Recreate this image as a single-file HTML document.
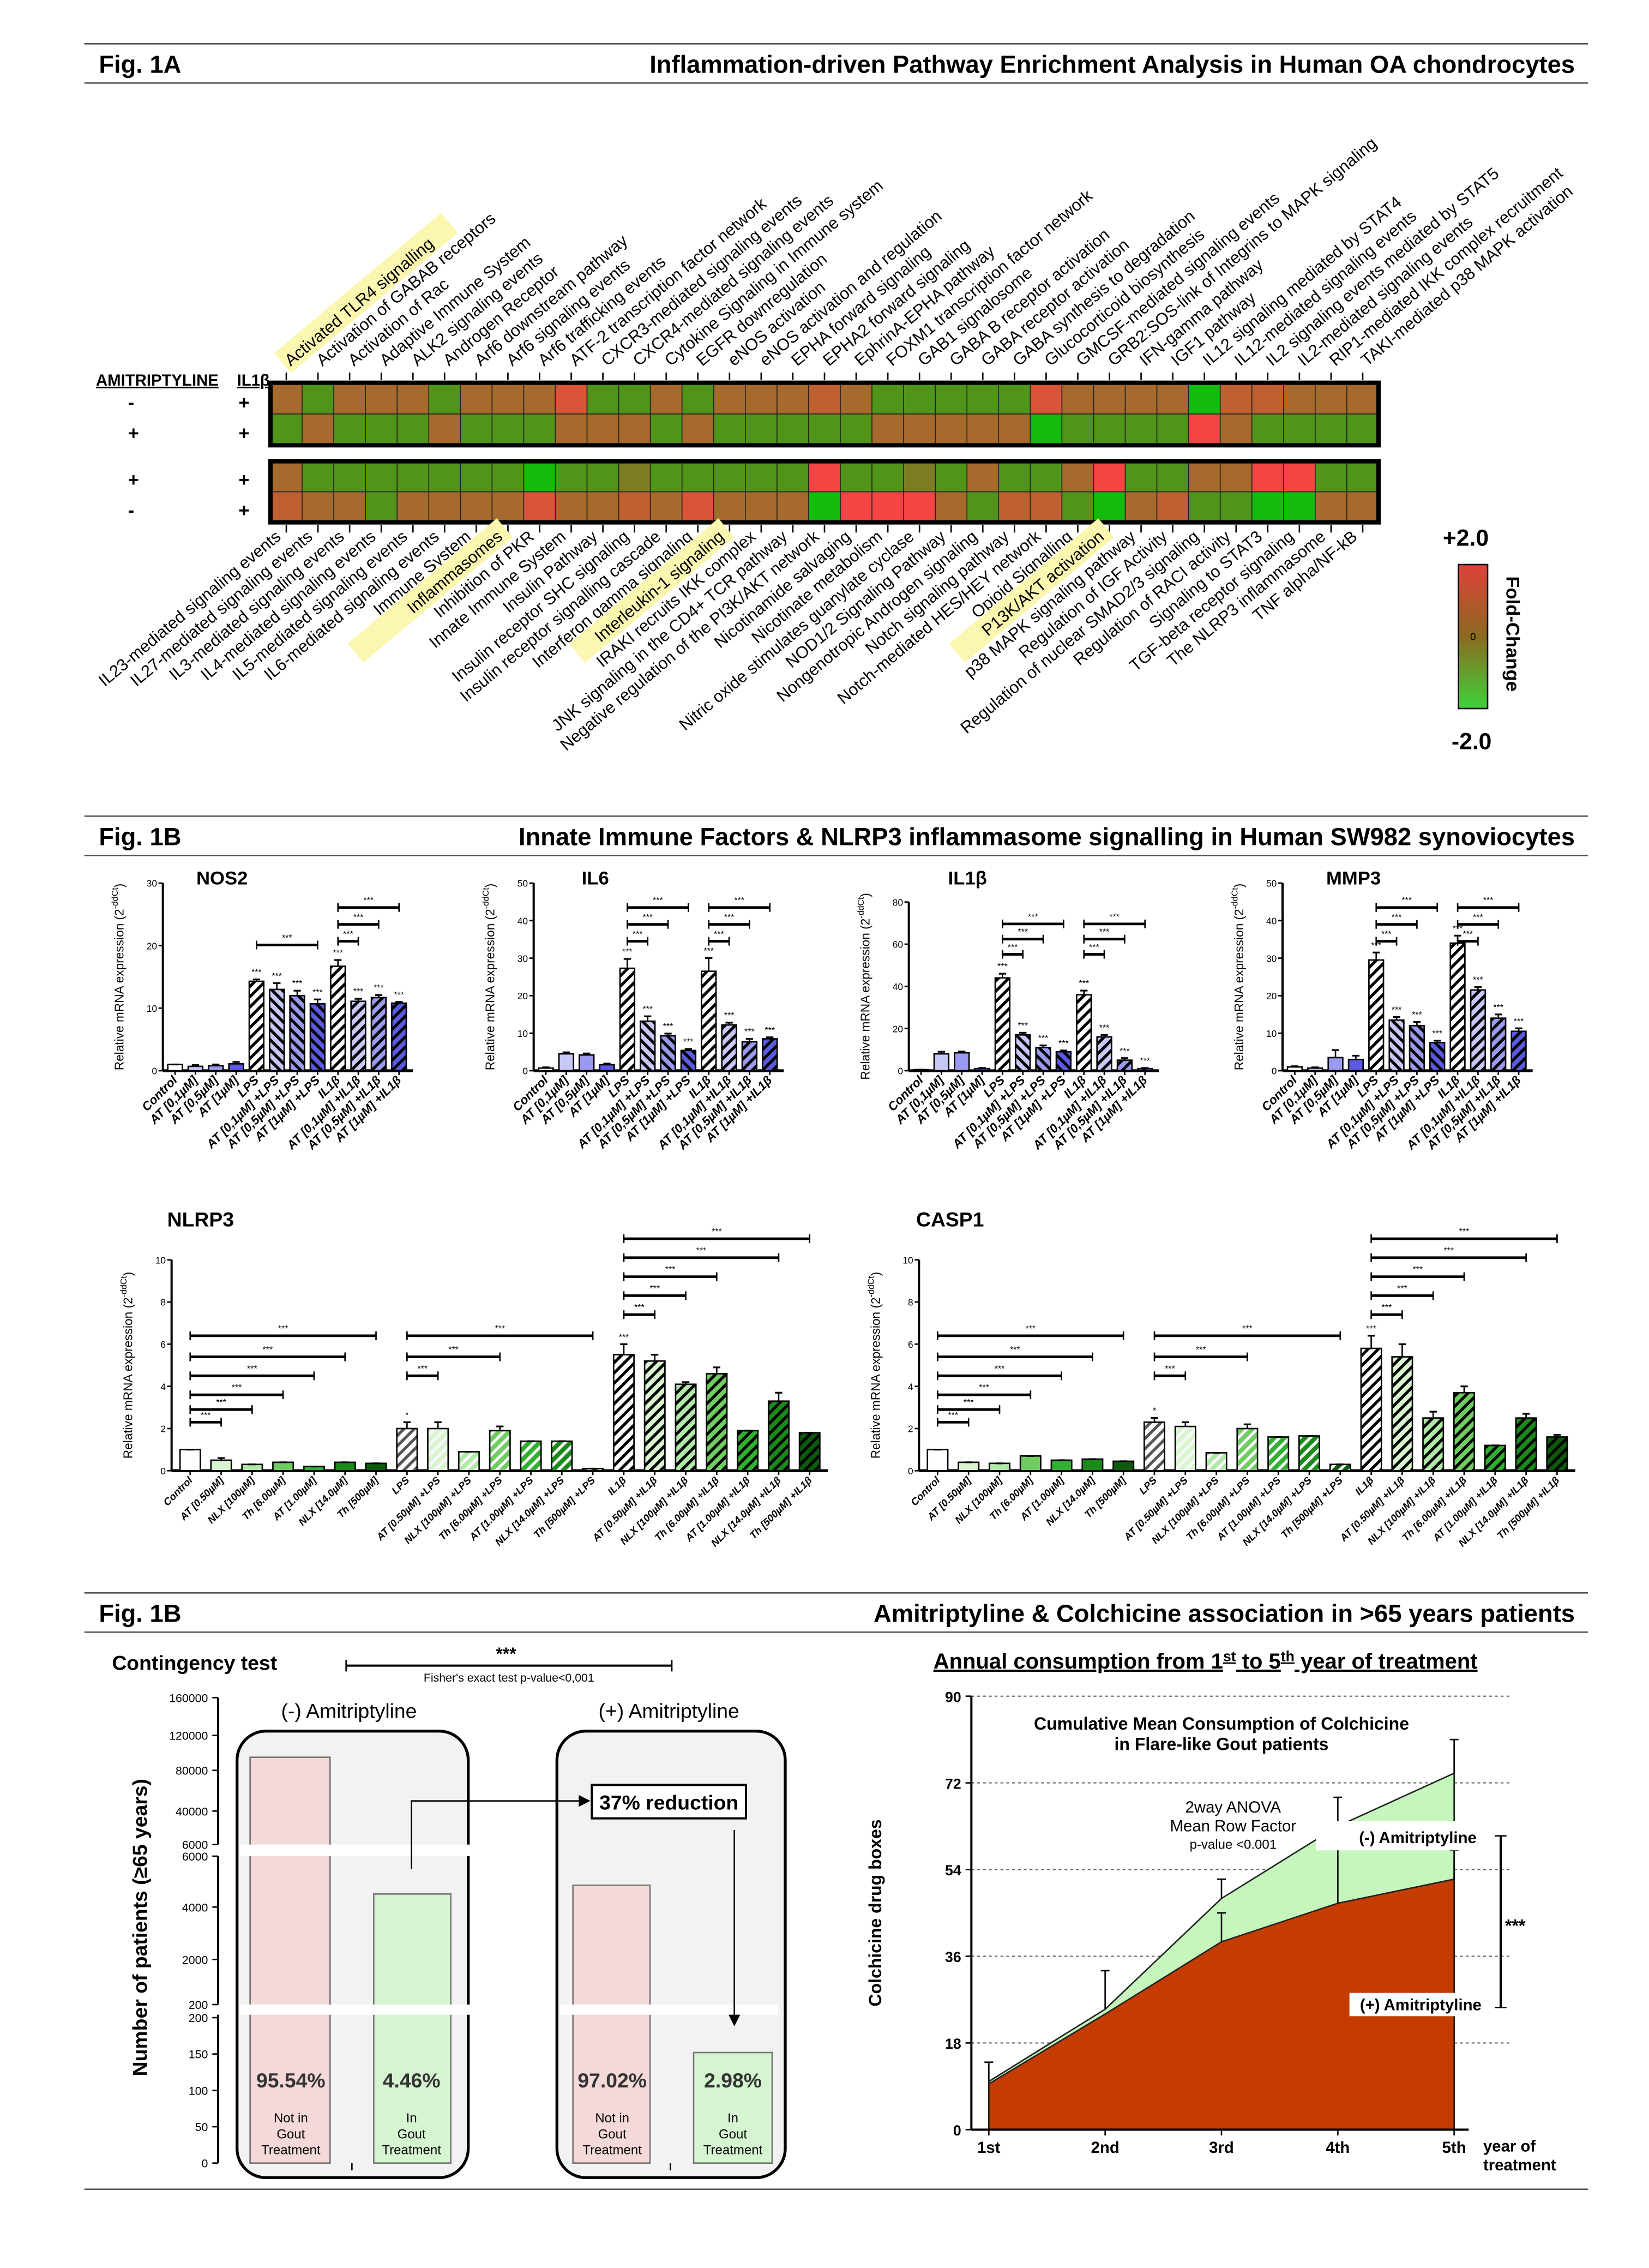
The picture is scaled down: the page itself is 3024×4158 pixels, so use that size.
<!DOCTYPE html>
<html><head><meta charset="utf-8"><style>
html,body{margin:0;padding:0;background:#fff}
svg{display:block}
text{font-family:"Liberation Sans",sans-serif}
</style></head><body>
<svg id="s" width="3024" height="4158" viewBox="0 0 1134 1559" xmlns="http://www.w3.org/2000/svg"></svg>
<script>
(function(){
var h='';
function T(x,y,t,o){o=o||{};h+='<text x="'+x+'" y="'+y+'" font-size="'+(o.s||11)+'"'+(o.b?' font-weight="bold"':'')+(o.i?' font-style="italic"':'')+(o.a?' text-anchor="'+o.a+'"':'')+(o.r!==undefined?' transform="rotate('+o.r+' '+x+' '+y+')"':'')+(o.f?' fill="'+o.f+'"':'')+(o.u?' text-decoration="underline"':'')+'>'+t+'</text>';}
function L(x1,y1,x2,y2,w,c,d){h+='<line x1="'+x1+'" y1="'+y1+'" x2="'+x2+'" y2="'+y2+'" stroke="'+(c||'#000')+'" stroke-width="'+(w||1)+'"'+(d?' stroke-dasharray="'+d+'"':'')+'/>';}
function R(x,y,w,hh,f,s,sw,rx){h+='<rect x="'+x+'" y="'+y+'" width="'+w+'" height="'+hh+'" fill="'+f+'"'+(s?' stroke="'+s+'" stroke-width="'+(sw||1)+'"':'')+(rx?' rx="'+rx+'"':'')+'/>';}
var defs='<defs><linearGradient id="lg" x1="0" y1="0" x2="0" y2="1"><stop offset="0" stop-color="#e0413a"/><stop offset="0.5" stop-color="#8a6a20"/><stop offset="1" stop-color="#3fd23a"/></linearGradient>';
var pid=0;
function hatch(col,dir,sc){pid++;var id='p'+pid;defs+='<pattern id="'+id+'" width="5" height="5" patternUnits="userSpaceOnUse" patternTransform="rotate('+(dir>0?45:-45)+')"><rect width="5" height="5" fill="'+col+'"/><rect width="2" height="5" fill="'+(sc||'#000')+'"/></pattern>';return 'url(#'+id+')';}
function header(y,fig,title){L(58,y-20,1092,y-20,1,'#555');T(68,y,fig,{s:17,b:1});T(1083,y,title,{s:17,b:1,a:'end'});L(58,y+7,1092,y+7,1,'#555');}
header(50,'Fig. 1A','Inflammation-driven Pathway Enrichment Analysis in Human OA chondrocytes');
header(581,'Fig. 1B','Innate Immune Factors &amp; NLRP3 inflammasome signalling in Human SW982 synoviocytes');
header(1115,'Fig. 1B','Amitriptyline &amp; Colchicine association in &gt;65 years patients');
L(58,1505,1092,1505,1,'#555');
var C={B:'#a56a2c',G:'#50951a',R:'#d9553a',r:'#f54444',g:'#14bb0c',o:'#7c7c22',O:'#c06030'};
var rows=['BGBBBGBBBRGGBGBBBOBGGGGGRBBBBgOOBBB','GBGGGBGGGBBBGBGGGGGBBBBBgGGGGrBGGGG','BGGGGGGGgGGoGGGGGrGGoGBGGBrGGBBrrGG','OBBGBBBBRBBOBRBBBgrrrBGOOGgBOGGggBB'];
var hx0=186,cw=(948-186)/35,ry=[263,284.5,317,338];
for(var r=0;r<4;r++)for(var c=0;c<35;c++)R(hx0+c*cw,ry[r],cw,21.5,C[rows[r][c]],'#222',0.6);
R(hx0,263,762,43,'none','#000',3);R(hx0,317,762,42,'none','#000',3);
for(var c=0;c<35;c++){var cx=hx0+c*cw+cw/2;L(cx,256,cx,261,1);L(cx,361,cx,366,1);}
var topL=['Activated TLR4 signalling','Activation of GABAB receptors','Activation of Rac','Adaptive Immune System','ALK2 signaling events','Androgen Receptor','Arf6 downstream pathway','Arf6 signaling events','Arf6 trafficking events','ATF-2 transcription factor network','CXCR3-mediated signaling events','CXCR4-mediated signaling events','Cytokine Signaling in Immune system','EGFR downregulation','eNOS activation','eNOS activation and regulation','EPHA forward signaling','EPHA2 forward signaling','EphrinA-EPHA pathway','FOXM1 transcription factor network','GAB1 signalosome','GABA B receptor activation','GABA receptor activation','GABA synthesis to degradation','Glucocorticoid biosynthesis','GMCSF-mediated signaling events','GRB2:SOS-link of Integrins to MAPK signaling','IFN-gamma pathway','IGF1 pathway','IL12 signaling mediated by STAT4','IL12-mediated signaling events','IL2 signaling events mediated by STAT5','IL2-mediated signaling events','RIP1-mediated IKK complex recruitment','TAKI-mediated p38 MAPK activation'];
var botL=['IL23-mediated signaling events','IL27-mediated signaling events','IL3-mediated signaling events','IL4-mediated signaling events','IL5-mediated signaling events','IL6-mediated signaling events','Immune System','Inflammasomes','Inhibition of PKR','Innate Immune System','Insulin Pathway','Insulin receptor SHC signaling','Insulin receptor signalling cascade','Interferon gamma signaling','Interleukin-1 signaling','IRAKI recruits IKK complex','JNK signaling in the CD4+ TCR pathway','Negative regulation of the PI3K/AKT network','Nicotinamide salvaging','Nicotinate metabolism','Nitric oxide stimulates guanylate cyclase','NOD1/2 Signaling Pathway','Nongenotropic Androgen signaling','Notch signaling pathway','Notch-mediated HES/HEY network','Opioid Signalling','P13K/AKT activation','p38 MAPK signaling pathway','Regulation of IGF Activity','Regulation of nuclear SMAD2/3 signaling','Regulation of RACI activity','Signaling to STAT3','TGF-beta receptor signaling','The NLRP3 inflammasome','TNF alpha/NF-kB'];
var hlT=[0],hlB=[7,14,26];
for(var c=0;c<35;c++){var cx=hx0+c*cw+cw/2+3;
 if(hlT.indexOf(c)>=0)h+='<rect x="'+(cx-4)+'" y="'+(250-13)+'" width="150" height="18" fill="#fbf6b0" transform="rotate(-40 '+cx+' 250)"/>';
 T(cx,252,topL[c],{s:11.5,r:-40});
 var bx=cx-6;
 if(hlB.indexOf(c)>=0)h+='<rect x="'+(bx-130)+'" y="'+(368-12)+'" width="134" height="17" fill="#fbf6b0" transform="rotate(-40 '+bx+' 368)"/>';
 T(bx,370,botL[c],{s:11.5,a:'end',r:-40});}
T(66,265,'AMITRIPTYLINE',{s:11,b:1,u:1});T(163,265,'IL1β',{s:11,b:1,u:1});
var sg=[['-','+'],['+','+'],['+','+'],['-','+']],sy=[281,302,334,355];
for(var i=0;i<4;i++){T(88,sy[i],sg[i][0],{s:13,b:1});T(164,sy[i],sg[i][1],{s:13,b:1});}
T(1008,375,'+2.0',{s:16,b:1,a:'middle'});T(1012,515,'-2.0',{s:16,b:1,a:'middle'});
R(1003,388,20,99,'url(#lg)','#000',1);T(1013,440,'0',{s:7,a:'middle'});
T(1036,396,'Fold-Change',{s:13,b:1,r:90});
function chart(o){var sc=(o.base-o.top)/o.max;
 L(o.ax,o.top,o.ax,o.base,1.5);L(o.ax,o.base,o.ax+o.n*o.dx+4,o.base,2);
 for(var v=0;v<=o.max;v+=o.step){var y=o.base-v*sc;L(o.ax-3,y,o.ax,y,1);T(o.ax-4,y+2.5,v,{s:6.5,a:'end'});}
 T(o.tx,o.ty,o.title,{s:o.ts||13,b:1});
 T(o.ax-27,(o.top+o.base)/2,'Relative mRNA expression (2<tspan font-size="6" dy="-4">-ddCt</tspan><tspan dy="4">)</tspan>',{s:8.5,a:'middle',r:-90});
 for(var i=0;i<o.n;i++){var cx=o.ax+o.dx*(i+0.6),v=o.v[i],y=o.base-v*sc;
  R(cx-o.bw/2,y,o.bw,v*sc,o.f[i],'#000',1);
  if(o.e){var e=o.e[i]*sc;L(cx,y,cx,y-e,1);L(cx-2.5,y-e,cx+2.5,y-e,1.2);}
  L(cx,o.base,cx,o.base+3,1);
  if(o.st&&o.st[i])T(cx,y-(o.e?o.e[i]*sc:0)-3,o.st[i],{s:6,a:'middle'});
  T(cx+2,o.base+7,o.lab[i],{s:o.ls||8.5,b:1,i:1,a:'end',r:-45});}
 (o.br||[]).forEach(function(b){var x1=o.ax+o.dx*(b[0]+0.6),x2=o.ax+o.dx*(b[1]+0.6),y=o.base-b[2]*sc;L(x1,y,x2,y,1.8);L(x1,y-3,x1,y+3,1);L(x2,y-3,x2,y+3,1);T((x1+x2)/2,y-3,'***',{s:6,a:'middle'});});}
var blues=['#fff','#c8c8f8','#9a9af0','#5a5ae2'];
var fT=[blues[0],blues[1],blues[2],blues[3],hatch('#fff',1),hatch(blues[1],-1),hatch(blues[2],-1),hatch(blues[3],-1),hatch('#fff',1),hatch(blues[1],1),hatch(blues[2],1),hatch(blues[3],1)];
var labT=['Control','AT [0,1µM]','AT [0,5µM]','AT [1µM]','LPS','AT [0,1µM] +LPS','AT [0,5µM] +LPS','AT [1µM] +LPS','IL1β','AT [0,1µM] +IL1β','AT [0,5µM] +IL1β','AT [1µM] +IL1β'];
var s8=['','','','','***','***','***','***','***','***','***','***'];
function brT(m){return [[4,7,0.67*m],[8,9,0.69*m],[8,10,0.78*m],[8,11,0.87*m]];}
function brT2(m){return [[4,5,0.69*m],[4,6,0.78*m],[4,7,0.87*m],[8,9,0.69*m],[8,10,0.78*m],[8,11,0.87*m]];}
chart({ax:112,top:607,base:736,max:30,step:10,n:12,dx:14,bw:10,v:[1,0.7,0.8,1.1,14.3,13,12,10.7,16.7,11.1,11.7,10.8],e:[0,0.2,0.2,0.3,0.3,1,0.8,0.7,1,0.4,0.4,0.2],f:fT,lab:labT,st:s8,br:brT(30),title:'NOS2',tx:135,ty:608});
chart({ax:367,top:607,base:736,max:50,step:10,n:12,dx:14,bw:10,v:[0.7,4.5,4.2,1.6,27.3,13.2,9.3,5.4,26.5,12.2,7.7,8.5],e:[0.2,0.4,0.4,0.3,2.5,1.3,0.6,0.4,3.5,0.6,0.8,0.4],f:fT,lab:labT,st:s8,br:brT2(50),title:'IL6',tx:400,ty:608});
chart({ax:625,top:620,base:736,max:80,step:20,n:12,dx:14,bw:10,v:[0.5,8,8.5,1,44,17,11,9,36,16,5,1],e:[0,1,0.6,0.3,2,1,1,0.6,2,1,1,0.3],f:fT,lab:labT,st:s8,br:brT2(80),title:'IL1β',tx:652,ty:608});
chart({ax:882,top:607,base:736,max:50,step:10,n:12,dx:14,bw:10,v:[1,0.7,3.5,3,29.5,13.5,12,7.5,34,21.5,14,10.5],e:[0.2,0.2,2,1,2,0.8,1,0.5,2,0.8,1,0.8],f:fT,lab:labT,st:s8,br:brT2(50),title:'MMP3',tx:912,ty:608});
var gr=['#fff','#d8f5d0','#b0e8a8','#70cc60','#30b030','#1a8a1a','#0d5a0d'];
var fM=[];for(var i=0;i<7;i++)fM.push(gr[i]);
fM.push(hatch('#fff',1,'#555'));for(var i=1;i<7;i++)fM.push(hatch(gr[i],1,'#f8f8f8'));
fM.push(hatch('#fff',1));for(var i=1;i<7;i++)fM.push(hatch(gr[i],1,'#000'));
var base7=['AT [0.50µM]','NLX [100µM]','Th [6.00µM]','AT [1.00µM]','NLX [14.0µM]','Th [500µM]'];
var labM=['Control'].concat(base7,['LPS'],base7.map(function(s){return s+' +LPS'}),['IL1β'],base7.map(function(s){return s+' +IL1β'}));
var brM=[[0,1,2.3],[0,2,2.9],[0,3,3.6],[0,4,4.5],[0,5,5.4],[0,6,6.4],[7,8,4.5],[7,10,5.4],[7,13,6.4],[14,15,7.4],[14,16,8.3],[14,17,9.2],[14,19,10.1],[14,20,11]];
chart({ax:118,top:866,base:1011,max:10,step:2,n:21,dx:21.3,bw:14,v:[1,0.5,0.3,0.4,0.2,0.4,0.35,2,2,0.9,1.9,1.4,1.4,0.1,5.5,5.2,4.1,4.6,1.9,3.3,1.8],e:[0,0.1,0,0,0,0,0,0.3,0.3,0,0.2,0,0,0,0.5,0.3,0.1,0.3,0,0.4,0],f:fM,lab:labM,ls:7,st:{7:'*',14:'***'},br:brM,title:'NLRP3',tx:115,ty:843,ts:14});
chart({ax:632,top:866,base:1011,max:10,step:2,n:21,dx:21.3,bw:14,v:[1,0.4,0.35,0.7,0.5,0.55,0.45,2.3,2.1,0.85,2,1.6,1.65,0.3,5.8,5.4,2.5,3.7,1.2,2.5,1.6],e:[0,0,0,0,0,0,0,0.2,0.2,0,0.2,0,0,0,0.6,0.6,0.3,0.3,0,0.2,0.1],f:fM,lab:labM,ls:7,st:{7:'*',14:'***'},br:brM,title:'CASP1',tx:630,ty:843,ts:14});
T(77,1148,'Contingency test',{s:14,b:1});
L(238,1145,462,1145,1.5);L(238,1141,238,1149,1);L(462,1141,462,1149,1);T(348,1141,'***',{s:12,b:1,a:'middle'});T(350,1156,"Fisher's exact test p-value&lt;0,001",{s:8,a:'middle'});
L(150,1167,150,1268,1.5);L(150,1276,150,1378,1.5);L(150,1385,150,1487,1.5);
[[160000,1167],[120000,1193],[80000,1217],[40000,1245],[6000,1268],[6000,1276],[4000,1311],[2000,1347],[200,1387],[150,1412],[100,1437],[50,1462],[0,1487],[200,1378]].forEach(function(t){L(146,t[1],150,t[1],1);T(143,t[1]+3,t[0],{s:8,a:'end'});});
T(101,1325,'Number of patients (≥65 years)',{s:14,b:1,a:'middle',r:-90});
R(163,1190,159,307,'#f2f2f2','#000',2,20);R(383,1190,157,307,'#f2f2f2','#000',2,20);
T(240,1181,'(-) Amitriptyline',{s:14,a:'middle'});T(460,1181,'(+) Amitriptyline',{s:14,a:'middle'});
R(172,1208,55,279,'#f5d9d9','#777',1);R(257,1302,53,185,'#d5f5d0','#777',1);R(394,1296,53,191,'#f5d9d9','#777',1);R(477,1411,54,76,'#d5f5d0','#777',1);
R(165,1268,160,8,'#fff');R(165,1378,160,7,'#fff');R(385,1378,150,7,'#fff');
[[200,'95.54%','Not in'],[283,'4.46%','In'],[421,'97.02%','Not in'],[504,'2.98%','In']].forEach(function(p){T(p[0],1435,p[1],{s:14,b:1,a:'middle',f:'#333'});T(p[0],1459,p[2],{s:9,a:'middle'});T(p[0],1470,'Gout',{s:9,a:'middle'});T(p[0],1481,'Treatment',{s:9,a:'middle'});});
L(242,1487,242,1492,1);L(461,1487,461,1492,1);
h+='<polyline points="283,1285 283,1238 400,1238" fill="none" stroke="#000" stroke-width="1"/><polygon points="406,1238 398,1234 398,1242" fill="#000"/>';
R(407,1227,106,23,'#fff','#000',1.5);T(460,1244,'37% reduction',{s:14,b:1,a:'middle'});
L(505,1258,505,1386,1);h+='<polygon points="505,1393 501,1385 509,1385" fill="#000"/>';
T(829,1147,'Annual consumption from 1<tspan font-size="10" dy="-5">st</tspan><tspan dy="5"> to 5</tspan><tspan font-size="10" dy="-5">th</tspan><tspan dy="5"> year of treatment</tspan>',{s:15,b:1,a:'middle',u:1});
var yb=1464,ys=(1464-1166)/90;
[0,18,36,54,72,90].forEach(function(v){var y=yb-v*ys;if(v>0)L(668,y,1040,y,0.8,'#666','2,2');L(664,y,668,y,1);T(661,y+4,v,{s:10,b:1,a:'end'});});
var xs=[680,760,840,920,1000],gv=[10,25,48,63,74],rv=[9.5,24,39,47,52],ev=[4,8,4,6,7];
function pts(a){return xs.map(function(x,i){return x+','+(yb-a[i]*ys)}).join(' ');}
h+='<polygon points="680,'+yb+' '+pts(gv)+' 1000,'+yb+'" fill="#c5f7bd" stroke="#222" stroke-width="1"/>';
h+='<polygon points="680,'+yb+' '+pts(rv)+' 1000,'+yb+'" fill="#c43c00" stroke="#222" stroke-width="1"/>';
xs.forEach(function(x,i){var y=yb-gv[i]*ys,e=ev[i]*ys;L(x,y,x,y-e,1);L(x-3,y-e,x+3,y-e,1);var y2=yb-rv[i]*ys;if(i>1){var k=(i==3?12:6)*ys;L(x,y2,x,y2-k,1);L(x-3,y2-k,x+3,y2-k,1);}});
R(905,1252,120,20,'#fff');
L(668,1166,668,1464,1.5);L(668,1464,1010,1464,1.5);
xs.forEach(function(x,i){L(x,1464,x,1468,1);T(x,1480,['1st','2nd','3rd','4th','5th'][i],{s:11,b:1,a:'middle'});});
T(1020,1479,'year of',{s:11,b:1});T(1020,1492,'treatment',{s:11,b:1});
T(606,1315,'Colchicine drug boxes',{s:12,b:1,a:'middle',r:-90});
T(840,1189,'Cumulative Mean Consumption of Colchicine',{s:12,b:1,a:'middle'});T(840,1203,'in Flare-like Gout patients',{s:12,b:1,a:'middle'});
T(848,1246,'2way ANOVA',{s:11,a:'middle'});T(848,1259,'Mean Row Factor',{s:11,a:'middle'});T(848,1271,'p-value &lt;0.001',{s:9,a:'middle'});
T(975,1267,'(-) Amitriptyline',{s:11,b:1,a:'middle'});
R(928,1370,96,16,'#fff');T(977,1382,'(+) Amitriptyline',{s:11,b:1,a:'middle'});
L(1032,1262,1032,1380,1.5);L(1028,1262,1036,1262,1);L(1028,1380,1036,1380,1);T(1042,1328,'***',{s:12,b:1,a:'middle'});
document.getElementById('s').innerHTML=defs+'</defs>'+h;
})();
</script>
</body></html>
